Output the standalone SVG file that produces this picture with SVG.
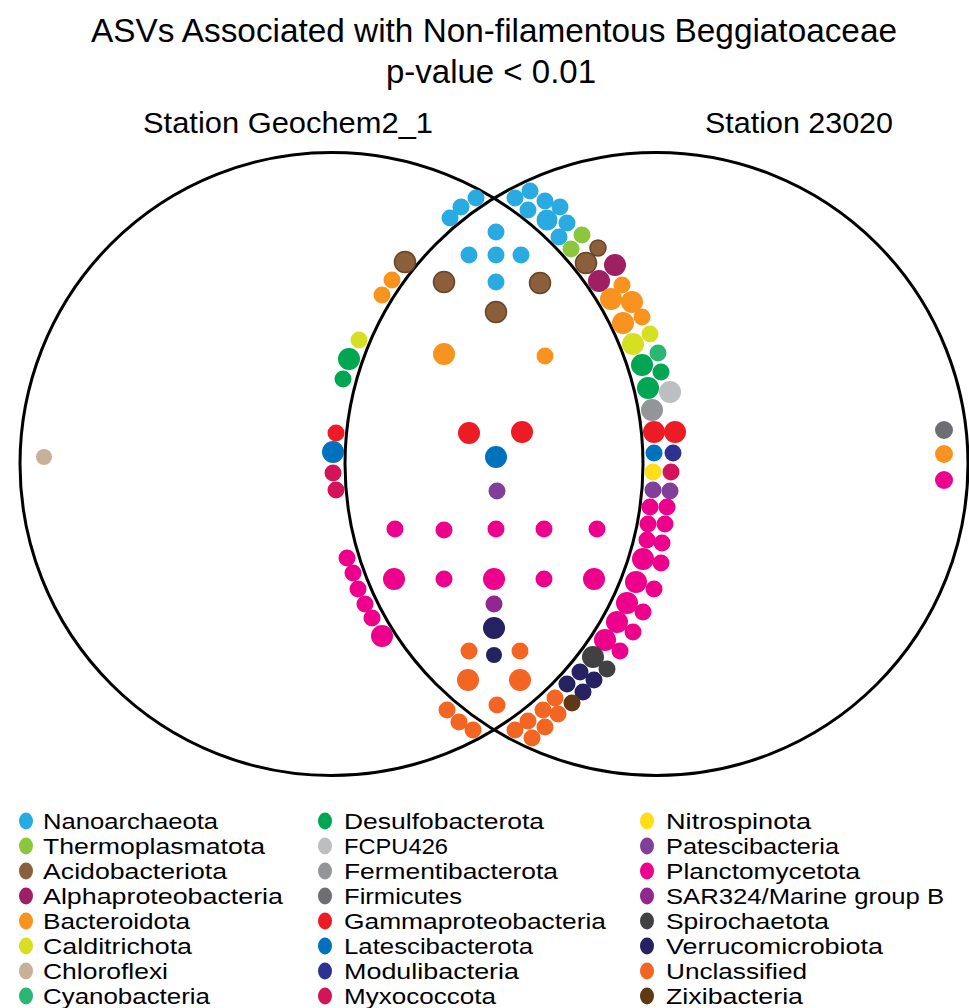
<svg xmlns="http://www.w3.org/2000/svg" width="969" height="1008" viewBox="0 0 969 1008">
<style>
text{font-family:"Liberation Sans",Arial,sans-serif;fill:#000}
.t{font-size:34px}
.st{font-size:29px}
.lg{font-size:22px}
.venn{fill:none;stroke:#000;stroke-width:3}
.nan{fill:#29abe2}.the{fill:#8cc63f}.aci{fill:#8b5e3c;stroke:#6b4423;stroke-width:1.5}.alp{fill:#9e1f63}
.bac{fill:#f7931e}.cal{fill:#d7df23}.chl{fill:#c7b299}.cya{fill:#2bb673}
.des{fill:#00a651}.fcp{fill:#bcbec0}.fer{fill:#939598}.fir{fill:#6d6e71}
.gam{fill:#ed1c24}.lat{fill:#0071bc}.mod{fill:#2e3192}.myx{fill:#d4145a}
.nit{fill:#ffde17}.pat{fill:#803f98}.pla{fill:#ec008c}.sar{fill:#92278f}
.spi{fill:#414042}.ver{fill:#262262}.unc{fill:#f26522}.zix{fill:#603813}
.lga{fill:#8b5e3c}
</style>
<rect width="969" height="1008" fill="#fff"/>
<g id="title">
<text class="t" x="494" y="42" text-anchor="middle" textLength="806" lengthAdjust="spacingAndGlyphs">ASVs Associated with Non-filamentous Beggiatoaceae</text>
<text class="t" x="491" y="83" text-anchor="middle" textLength="210" lengthAdjust="spacingAndGlyphs">p-value &lt; 0.01</text>
</g>
<g id="station-geochem2_1">
<circle class="venn" cx="331.5" cy="464" r="311.5"/>
<text class="st" x="143" y="133" textLength="290" lengthAdjust="spacingAndGlyphs">Station Geochem2_1</text>
</g>
<g id="station-23020">
<circle class="venn" cx="656.5" cy="464" r="311.5"/>
<text class="st" x="705" y="133" textLength="188" lengthAdjust="spacingAndGlyphs">Station 23020</text>
</g>
<g id="dots">
<g id="d-nanoarchaeota" class="nan">
<circle cx="450" cy="218" r="8.5"/><circle cx="461" cy="207" r="8.5"/><circle cx="476" cy="198" r="8.5"/>
<circle cx="515" cy="198" r="8.5"/><circle cx="530" cy="191" r="8.5"/><circle cx="528" cy="210" r="8.5"/><circle cx="545" cy="201" r="8.5"/><circle cx="547" cy="220" r="10.5"/><circle cx="560" cy="207" r="8.5"/><circle cx="567" cy="223" r="8.5"/><circle cx="559" cy="237" r="8.5"/>
<circle cx="496" cy="232" r="8.5"/><circle cx="469" cy="255" r="8.5"/><circle cx="496" cy="255" r="8.5"/><circle cx="521" cy="255" r="8.5"/><circle cx="496" cy="282" r="8.5"/>
</g>
<g id="d-thermoplasmatota" class="the"><circle cx="582" cy="235" r="8.5"/><circle cx="571" cy="249" r="8.5"/></g>
<g id="d-acidobacteriota" class="aci">
<circle cx="598" cy="248" r="8"/><circle cx="586" cy="263" r="10.5"/><circle cx="405" cy="262" r="10.5"/><circle cx="444" cy="282" r="10.5"/><circle cx="540" cy="283" r="10.5"/><circle cx="496" cy="312" r="10.5"/>
</g>
<g id="d-alphaproteobacteria" class="alp"><circle cx="615" cy="265" r="11"/><circle cx="599" cy="281" r="11"/></g>
<g id="d-bacteroidota" class="bac">
<circle cx="622" cy="285" r="8.5"/><circle cx="611" cy="299" r="11"/><circle cx="632" cy="302" r="11"/><circle cx="642" cy="317" r="8.5"/><circle cx="623" cy="323" r="11"/>
<circle cx="392" cy="280" r="8.5"/><circle cx="382" cy="295" r="8.5"/><circle cx="444" cy="354" r="11"/><circle cx="545" cy="356" r="8.5"/><circle cx="944" cy="454" r="9"/>
</g>
<g id="d-calditrichota" class="cal"><circle cx="633" cy="344" r="11"/><circle cx="650" cy="334" r="8.5"/><circle cx="359" cy="340" r="8.5"/></g>
<g id="d-cyanobacteria" class="cya"><circle cx="658" cy="353" r="8.5"/></g>
<g id="d-desulfobacterota" class="des"><circle cx="642" cy="365" r="11"/><circle cx="661" cy="372" r="8.5"/><circle cx="648" cy="388" r="11"/><circle cx="349" cy="359" r="11"/><circle cx="343" cy="379" r="8.5"/></g>
<g id="d-fcpu426" class="fcp"><circle cx="670" cy="392" r="11"/></g>
<g id="d-fermentibacterota" class="fer"><circle cx="652" cy="410" r="11"/></g>
<g id="d-firmicutes" class="fir"><circle cx="944" cy="430" r="9"/></g>
<g id="d-gammaproteobacteria" class="gam"><circle cx="654" cy="432" r="11"/><circle cx="675" cy="432" r="11"/><circle cx="469" cy="433" r="11"/><circle cx="522" cy="432" r="11"/><circle cx="336" cy="433" r="8.5"/></g>
<g id="d-latescibacterota" class="lat"><circle cx="654" cy="453" r="8.5"/><circle cx="496" cy="457" r="11"/><circle cx="333" cy="452" r="11"/></g>
<g id="d-modulibacteria" class="mod"><circle cx="673" cy="453" r="8.5"/></g>
<g id="d-myxococcota" class="myx"><circle cx="671" cy="472" r="8.5"/><circle cx="333" cy="473" r="8.5"/><circle cx="336" cy="490" r="8.5"/></g>
<g id="d-nitrospinota" class="nit"><circle cx="653" cy="472" r="8.5"/></g>
<g id="d-patescibacteria" class="pat"><circle cx="653" cy="490" r="8.5"/><circle cx="670" cy="491" r="8.5"/><circle cx="497" cy="491" r="8.5"/></g>
<g id="d-planctomycetota" class="pla">
<circle cx="650" cy="507" r="8.5"/><circle cx="667" cy="507" r="8.5"/><circle cx="648" cy="524" r="8.5"/><circle cx="665" cy="524" r="8.5"/><circle cx="647" cy="540" r="8.5"/><circle cx="662" cy="543" r="8.5"/><circle cx="643" cy="559" r="11"/><circle cx="661" cy="563" r="8.5"/><circle cx="636" cy="582" r="11"/><circle cx="654" cy="589" r="8.5"/><circle cx="627" cy="603" r="11"/><circle cx="643" cy="612" r="8.5"/><circle cx="617" cy="622" r="11"/><circle cx="633" cy="632" r="8.5"/><circle cx="605" cy="640" r="11"/><circle cx="620" cy="651" r="8.5"/>
<circle cx="395" cy="529" r="8.5"/><circle cx="444" cy="530" r="8.5"/><circle cx="496" cy="529" r="8.5"/><circle cx="544" cy="529" r="8.5"/><circle cx="597" cy="529" r="8.5"/>
<circle cx="394" cy="579" r="11"/><circle cx="444" cy="579" r="8.5"/><circle cx="494" cy="579" r="11"/><circle cx="544" cy="579" r="8.5"/><circle cx="594" cy="579" r="11"/>
<circle cx="347" cy="558" r="8.5"/><circle cx="353" cy="573" r="8.5"/><circle cx="358" cy="589" r="8.5"/><circle cx="365" cy="604" r="8.5"/><circle cx="372" cy="618" r="8.5"/><circle cx="382" cy="636" r="11"/>
<circle cx="944" cy="480" r="9"/>
</g>
<g id="d-sar324" class="sar"><circle cx="494" cy="604" r="8.5"/></g>
<g id="d-spirochaetota" class="spi"><circle cx="593" cy="657" r="11"/><circle cx="607" cy="669" r="8.5"/></g>
<g id="d-verrucomicrobiota" class="ver"><circle cx="494" cy="628" r="11"/><circle cx="494" cy="655" r="8"/><circle cx="567" cy="684" r="8.5"/><circle cx="580" cy="672" r="8.5"/><circle cx="594" cy="680" r="8.5"/><circle cx="583" cy="692" r="8.5"/></g>
<g id="d-unclassified" class="unc">
<circle cx="469" cy="651" r="8.5"/><circle cx="520" cy="651" r="8.5"/><circle cx="468" cy="680" r="11"/><circle cx="520" cy="680" r="11"/><circle cx="497" cy="705" r="8.5"/>
<circle cx="447" cy="710" r="8.5"/><circle cx="459" cy="722" r="8.5"/><circle cx="473" cy="730" r="8.5"/>
<circle cx="515" cy="730" r="8.5"/><circle cx="532" cy="738" r="8.5"/><circle cx="528" cy="721" r="8.5"/><circle cx="545" cy="727" r="8.5"/><circle cx="543" cy="710" r="8.5"/><circle cx="558" cy="714" r="8.5"/><circle cx="555" cy="698" r="8.5"/>
</g>
<g id="d-zixibacteria" class="zix"><circle cx="572" cy="703" r="8.5"/></g>
<g id="d-chloroflexi" class="chl"><circle cx="44" cy="457" r="8"/></g>
</g>
<g id="legend">
<g id="legend-col1">
<ellipse class="nan" cx="26" cy="821" rx="7" ry="8.5"/><text class="lg" x="43" y="829" textLength="175" lengthAdjust="spacingAndGlyphs">Nanoarchaeota</text>
<ellipse class="the" cx="26" cy="846" rx="7" ry="8.5"/><text class="lg" x="43" y="854" textLength="222" lengthAdjust="spacingAndGlyphs">Thermoplasmatota</text>
<ellipse class="lga" cx="26" cy="871" rx="7" ry="8.5"/><text class="lg" x="43" y="879" textLength="184" lengthAdjust="spacingAndGlyphs">Acidobacteriota</text>
<ellipse class="alp" cx="26" cy="896" rx="7" ry="8.5"/><text class="lg" x="43" y="904" textLength="240" lengthAdjust="spacingAndGlyphs">Alphaproteobacteria</text>
<ellipse class="bac" cx="26" cy="921" rx="7" ry="8.5"/><text class="lg" x="43" y="929" textLength="147" lengthAdjust="spacingAndGlyphs">Bacteroidota</text>
<ellipse class="cal" cx="26" cy="946" rx="7" ry="8.5"/><text class="lg" x="43" y="954" textLength="149" lengthAdjust="spacingAndGlyphs">Calditrichota</text>
<ellipse class="chl" cx="26" cy="971" rx="7" ry="8.5"/><text class="lg" x="43" y="979" textLength="125" lengthAdjust="spacingAndGlyphs">Chloroflexi</text>
<ellipse class="cya" cx="26" cy="996" rx="7" ry="8.5"/><text class="lg" x="43" y="1004" textLength="167" lengthAdjust="spacingAndGlyphs">Cyanobacteria</text>
</g>
<g id="legend-col2">
<ellipse class="des" cx="325" cy="821" rx="7" ry="8.5"/><text class="lg" x="344" y="829" textLength="200" lengthAdjust="spacingAndGlyphs">Desulfobacterota</text>
<ellipse class="fcp" cx="325" cy="846" rx="7" ry="8.5"/><text class="lg" x="344" y="854" textLength="104" lengthAdjust="spacingAndGlyphs">FCPU426</text>
<ellipse class="fer" cx="325" cy="871" rx="7" ry="8.5"/><text class="lg" x="344" y="879" textLength="214" lengthAdjust="spacingAndGlyphs">Fermentibacterota</text>
<ellipse class="fir" cx="325" cy="896" rx="7" ry="8.5"/><text class="lg" x="344" y="904" textLength="118" lengthAdjust="spacingAndGlyphs">Firmicutes</text>
<ellipse class="gam" cx="325" cy="921" rx="7" ry="8.5"/><text class="lg" x="344" y="929" textLength="262" lengthAdjust="spacingAndGlyphs">Gammaproteobacteria</text>
<ellipse class="lat" cx="325" cy="946" rx="7" ry="8.5"/><text class="lg" x="344" y="954" textLength="189" lengthAdjust="spacingAndGlyphs">Latescibacterota</text>
<ellipse class="mod" cx="325" cy="971" rx="7" ry="8.5"/><text class="lg" x="344" y="979" textLength="175" lengthAdjust="spacingAndGlyphs">Modulibacteria</text>
<ellipse class="myx" cx="325" cy="996" rx="7" ry="8.5"/><text class="lg" x="344" y="1004" textLength="152" lengthAdjust="spacingAndGlyphs">Myxococcota</text>
</g>
<g id="legend-col3">
<ellipse class="nit" cx="647" cy="821" rx="7" ry="8.5"/><text class="lg" x="666" y="829" textLength="145" lengthAdjust="spacingAndGlyphs">Nitrospinota</text>
<ellipse class="pat" cx="647" cy="846" rx="7" ry="8.5"/><text class="lg" x="666" y="854" textLength="173" lengthAdjust="spacingAndGlyphs">Patescibacteria</text>
<ellipse class="pla" cx="647" cy="871" rx="7" ry="8.5"/><text class="lg" x="666" y="879" textLength="194" lengthAdjust="spacingAndGlyphs">Planctomycetota</text>
<ellipse class="sar" cx="647" cy="896" rx="7" ry="8.5"/><text class="lg" x="666" y="904" textLength="278" lengthAdjust="spacingAndGlyphs">SAR324/Marine group B</text>
<ellipse class="spi" cx="647" cy="921" rx="7" ry="8.5"/><text class="lg" x="666" y="929" textLength="163" lengthAdjust="spacingAndGlyphs">Spirochaetota</text>
<ellipse class="ver" cx="647" cy="946" rx="7" ry="8.5"/><text class="lg" x="666" y="954" textLength="217" lengthAdjust="spacingAndGlyphs">Verrucomicrobiota</text>
<ellipse class="unc" cx="647" cy="971" rx="7" ry="8.5"/><text class="lg" x="666" y="979" textLength="141" lengthAdjust="spacingAndGlyphs">Unclassified</text>
<ellipse class="zix" cx="647" cy="996" rx="7" ry="8.5"/><text class="lg" x="666" y="1004" textLength="137" lengthAdjust="spacingAndGlyphs">Zixibacteria</text>
</g>
</g>
</svg>
